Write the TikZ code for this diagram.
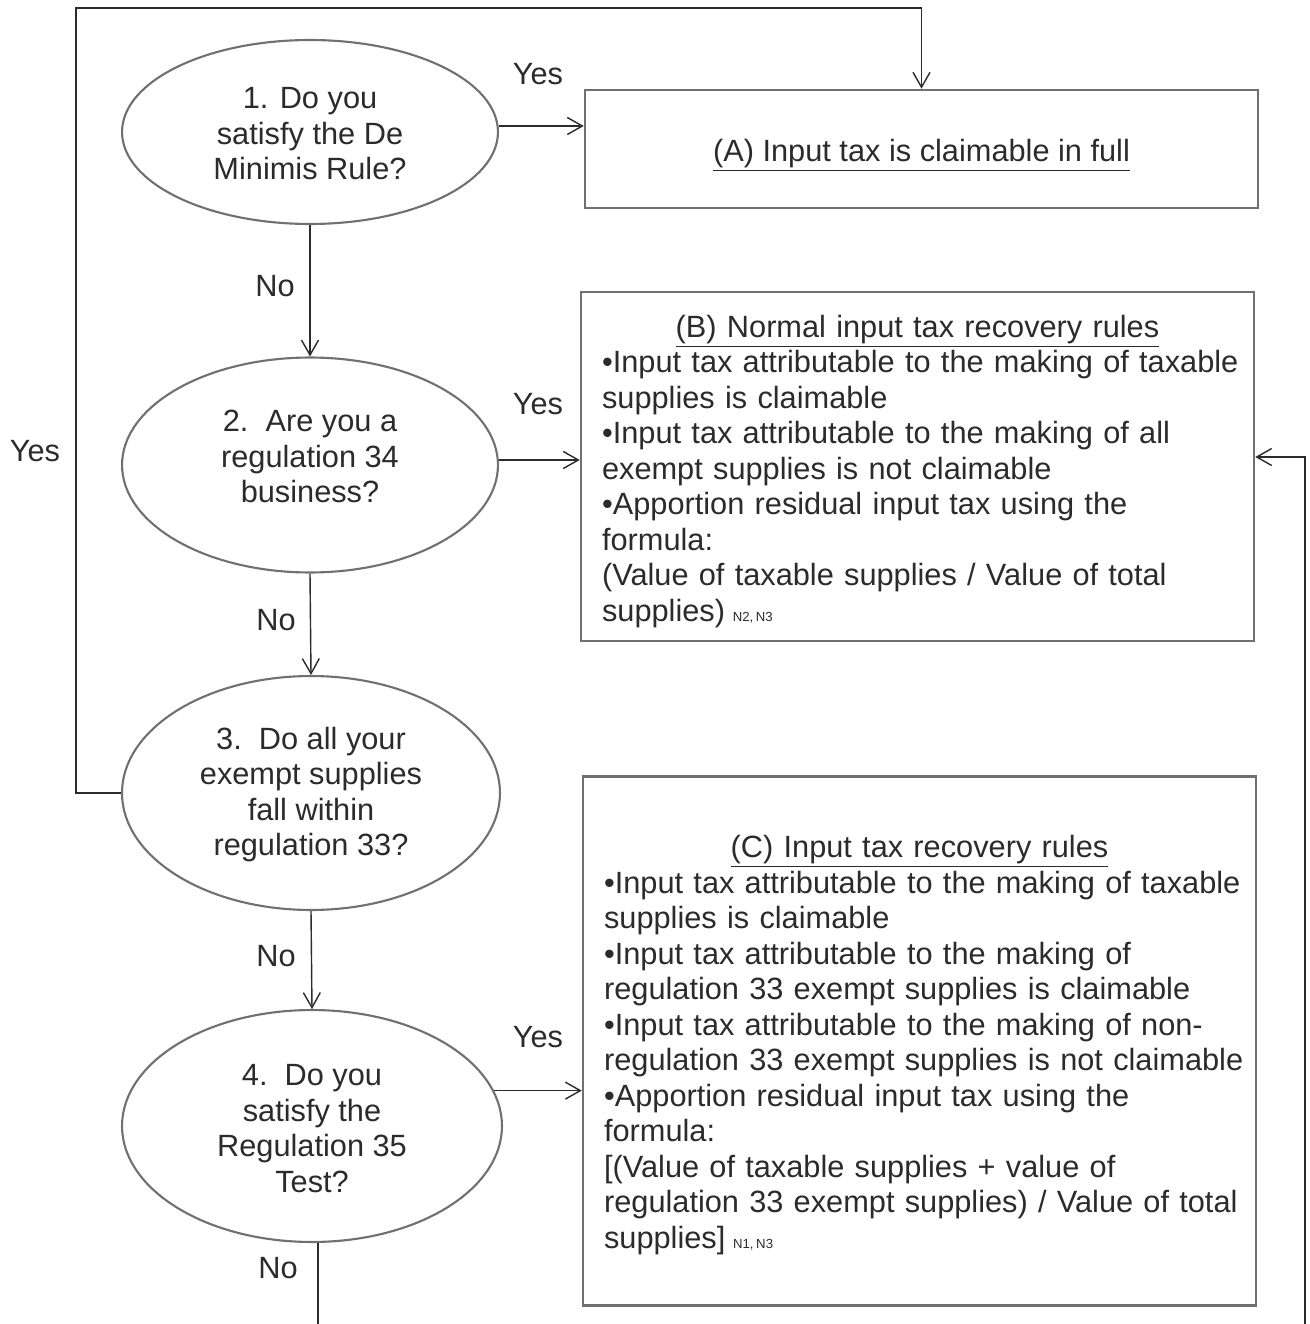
\documentclass[tikz,border=0pt]{standalone}
\usepackage{fontspec}
\setmainfont{Liberation Sans}
\usetikzlibrary{shapes.geometric,arrows.meta}
\definecolor{txt}{HTML}{2B2B2B}
\definecolor{edge}{HTML}{707070}
\newcommand{\nsup}[1]{\hspace{0.25em}\mbox{\fontsize{7.5}{7.5}\selectfont #1}}
\newcommand{\bline}[1]{\mbox{#1}\\}
\begin{document}
\begin{tikzpicture}[x=0.02cm,y=-0.02cm,
  every node/.style={font=\fontsize{17.5}{20.2}\selectfont, text=txt},
  ell/.style={draw=edge, line width=1.2pt, ellipse, inner sep=0pt},
  etxt/.style={align=center, inner sep=0pt},
  box/.style={draw=edge, line width=1.5pt, rectangle, minimum width=13.46cm, inner sep=0pt},
  arr/.style={draw=txt, line width=0.8pt, -{Straight Barb[length=3mm,width=3.4mm]}},
  ln/.style={draw=txt, line width=0.8pt},
  lbl/.style={inner sep=0pt}]
\useasboundingbox (0,0) rectangle (1309,1324);
% ellipses
\node[ell, minimum width=7.52cm, minimum height=3.68cm] (E1) at (310,132) {};
\node[ell, minimum width=7.52cm, minimum height=4.3cm] (E2) at (310,465) {};
\node[ell, minimum width=7.56cm, minimum height=4.68cm] (E3) at (311,793) {};
\node[ell, minimum width=7.6cm, minimum height=4.64cm] (E4) at (312,1126) {};
\node[etxt] (E1t) at (310,134) {1. Do you\\satisfy the De\\Minimis Rule?};
\node[etxt] (E2t) at (310,456.5) {2.\ \ Are you a\\regulation 34\\business?};
\node[etxt] (E3t) at (311,794.5) {3.\ \ Do all your\\exempt supplies\\fall within\\regulation 33?};
\node[etxt] (E4t) at (312,1128.5) {4.\ \ Do you\\satisfy the\\Regulation 35\\Test?};
% boxes
\node[box, minimum height=2.36cm, text height=1.5em, text depth=0.08em] (A) at (921.5,149) {\underline{(A) Input tax is claimable in full}};
\node[box, minimum height=6.98cm, text width=12.62cm] (B) at (917.5,466.5) {%
{\centering\rule{0pt}{1.05em}\underline{(B) Normal input tax recovery rules}\par}
\raggedright
\bline{•Input tax attributable to the making of taxable}
\bline{supplies is claimable}
\bline{•Input tax attributable to the making of all}
\bline{exempt supplies is not claimable}
\bline{•Apportion residual input tax using the}
\bline{formula:}
\bline{(Value of taxable supplies / Value of total}
\mbox{supplies)\nsup{N2,\kern1.5pt N3}}\par};
\node[box, minimum height=10.58cm, text width=12.62cm] (C) at (919.5,1041) {%
{\centering\rule{0pt}{1.0em}\underline{(C) Input tax recovery rules}\par}
\raggedright
\bline{•Input tax attributable to the making of taxable}
\bline{supplies is claimable}
\bline{•Input tax attributable to the making of}
\bline{regulation 33 exempt supplies is claimable}
\bline{•Input tax attributable to the making of non-}
\bline{regulation 33 exempt supplies is not claimable}
\bline{•Apportion residual input tax using the}
\bline{formula:}
\bline{[(Value of taxable supplies + value of}
\bline{regulation 33 exempt supplies) / Value of total}
\mbox{supplies]\nsup{N1,\kern1.5pt N3}}\par};
% free-end coordinates
\coordinate (tl) at (76,8);
\coordinate (b4) at (318,1324);
\coordinate (rb) at (1305,1324);
% connectors
\draw[arr] (E1.east |- 0,126) -- (A.west |- 0,126);
\draw[arr] (E1.south) -- (E2.north);
\draw[arr] (E2.east |- 0,460) -- (B.west |- 0,460);
\draw[arr] (E2.south) -- (E3.north);
\draw[arr] (E3.south) -- (E4.north);
\draw[arr] (E4.11) -- (E4.11 -| C.west);
\draw[ln] (E4.south -| b4) -- (b4);
\draw[arr] (E3.west) -| (tl) -| (A.north);
\draw[arr] (rb) |- (B.east |- 0,457);
% labels
\node[lbl] (y1) at (538,74) {Yes};
\node[lbl] (n1) at (275,286) {No};
\node[lbl] (y2) at (538,404) {Yes};
\node[lbl] (n2) at (276,620) {No};
\node[lbl] (n3) at (276,956) {No};
\node[lbl] (y4) at (538,1037) {Yes};
\node[lbl] (n4) at (278,1268) {No};
\node[lbl] (y3) at (35,451) {Yes};
\end{tikzpicture}
\end{document}
